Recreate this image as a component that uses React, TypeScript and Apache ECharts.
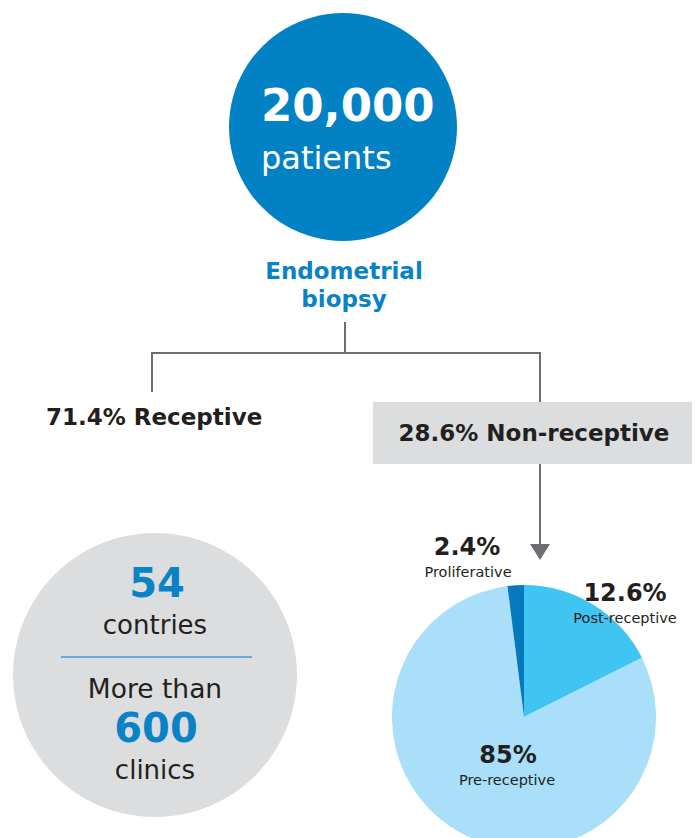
import React, { useEffect, useRef } from "react";
import * as echarts from "echarts";

// ---- data ----
const headlineNumber = "20,000";
const headlineUnit = "patients";
const procedureLines = ["Endometrial", "biopsy"];
const receptiveLabel = "71.4% Receptive";
const nonReceptiveLabel = "28.6% Non-receptive";
const statLines = ["54", "contries", "More than", "600", "clinics"];

// pie slices, clockwise from 12 o'clock
const sliceNames = ["Post-receptive", "Pre-receptive", "Proliferative"];
const slicePrintedLabels = ["12.6%", "85%", "2.4%"];
// slice shares as they are drawn in the picture (angles measured)
const sliceShares = [17.6, 80.4, 2.0];
const sliceColors = ["#40c4f1", "#a9dff8", "#0679be"];

const FONT = "'DejaVu Sans', Lato, sans-serif";
const DARK = "#231f20";
const BLUE = "#0a82c6";

export default function App() {
  const ref = useRef<HTMLDivElement>(null);
  useEffect(() => {
    document.body.style.margin = "0";
    const chart = echarts.init(ref.current!, null, { renderer: "svg" });

    const txt = (
      text: string,
      x: number,
      y: number,
      size: number,
      weight: string | number,
      fill: string,
      align: string = "center"
    ) => ({
      type: "text",
      x,
      y,
      z: 100,
      style: {
        text,
        fill,
        font: `${weight} ${size}px ${FONT}`,
        textAlign: align,
        textVerticalAlign: "middle",
      },
    });

    const lineStyle = { stroke: "#6d6e71", lineWidth: 2 };

    // label positions for the pie slices
    const sliceLabelPos = [
      { x: 625, y: 593, sx: 625, sy: 618 },
      { x: 508, y: 755, sx: 507, sy: 780 },
      { x: 467, y: 547, sx: 468, sy: 572 },
    ];

    const graphics: any[] = [
      { type: "circle", shape: { cx: 343, cy: 127, r: 114 }, style: { fill: "#0381c5" }, z: 1 },
      txt(headlineNumber, 261, 105, 45, "bold", "#ffffff", "left"),
      txt(headlineUnit, 261, 158, 32, "normal", "#ffffff", "left"),
      txt(procedureLines[0], 344, 271, 23, "bold", BLUE),
      txt(procedureLines[1], 344, 299, 23, "bold", BLUE),
      // tree lines
      { type: "line", shape: { x1: 345, y1: 322, x2: 345, y2: 353 }, style: lineStyle },
      { type: "polyline", shape: { points: [[152, 392], [152, 353], [540, 353], [540, 402]] }, style: lineStyle },
      txt(receptiveLabel, 46, 417, 23, "bold", DARK, "left"),
      { type: "rect", shape: { x: 373, y: 402, width: 319, height: 62 }, style: { fill: "#dcdddf" }, z: 1 },
      txt(nonReceptiveLabel, 534, 433, 23, "bold", DARK),
      { type: "line", shape: { x1: 540, y1: 464, x2: 540, y2: 546 }, style: lineStyle },
      { type: "polygon", shape: { points: [[530, 544], [550, 544], [540, 560]] }, style: { fill: "#6d6e71" } },
      // stats circle
      { type: "circle", shape: { cx: 155, cy: 675, r: 142 }, style: { fill: "#dcdddf" }, z: 1 },
      txt(statLines[0], 157, 583, 40, "bold", BLUE),
      txt(statLines[1], 155, 625, 26, "normal", DARK),
      { type: "line", shape: { x1: 61, y1: 657, x2: 252, y2: 657 }, style: { stroke: "#3d9ad6", lineWidth: 1.5 }, z: 50 },
      txt(statLines[2], 155, 688, 26.5, "normal", DARK),
      txt(statLines[3], 156, 728, 40, "bold", BLUE),
      txt(statLines[4], 155, 770, 26, "normal", DARK),
    ];
    sliceNames.forEach((name, i) => {
      const p = sliceLabelPos[i];
      graphics.push(txt(slicePrintedLabels[i], p.x, p.y, 24, "bold", DARK));
      graphics.push(txt(name, p.sx, p.sy, 14.5, "normal", DARK));
    });

    chart.setOption({
      animation: false,
      graphic: { elements: graphics },
      series: [
        {
          type: "pie",
          center: [524, 717],
          radius: [0, 132],
          startAngle: 90,
          clockwise: true,
          silent: true,
          label: { show: false },
          labelLine: { show: false },
          itemStyle: { borderWidth: 0 },
          data: sliceNames.map((n, i) => ({
            name: n,
            value: sliceShares[i],
            itemStyle: { color: sliceColors[i] },
          })),
          z: 2,
        },
      ],
    });
    return () => chart.dispose();
  }, []);
  return <div ref={ref} style={{ width: 697, height: 838 }} />;
}
